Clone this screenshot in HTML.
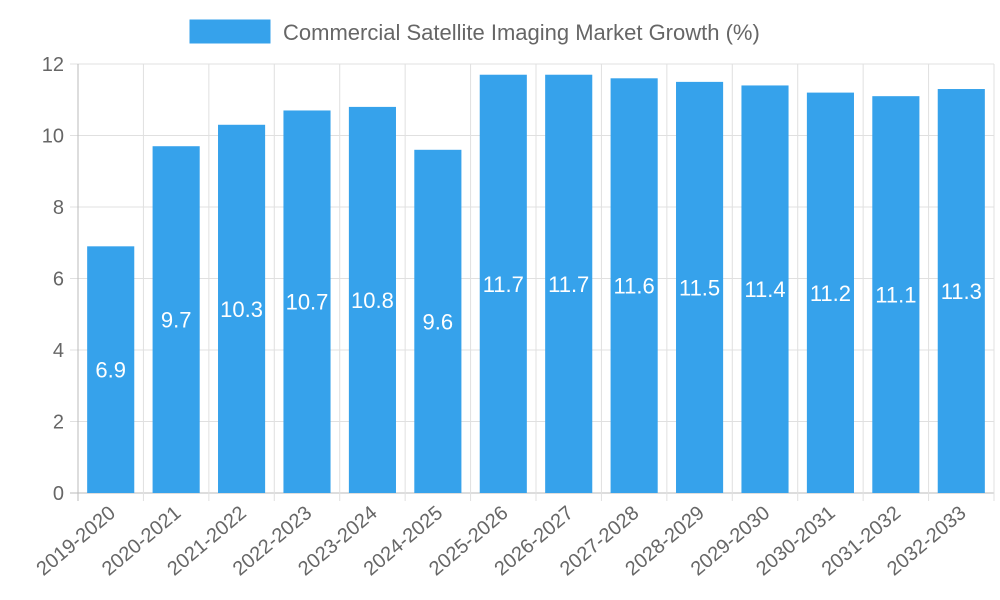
<!DOCTYPE html>
<html><head><meta charset="utf-8"><style>
html,body{margin:0;padding:0;background:#fff;}
svg{display:block;font-family:"Liberation Sans",Arial,sans-serif;}
</style></head><body>
<svg id="chart" width="1000" height="600">
<g>
<rect x="190" y="20" width="80" height="23" fill="#36a2eb" stroke="#36a2eb"></rect>
<text x="283" y="40" font-size="22" fill="#666">Commercial Satellite Imaging Market Growth (%)</text>
</g>
<g id="grid"></g>
<g id="bars"></g>
<g id="axes"></g>
</svg>
<script>
const categories=["2019-2020","2020-2021","2021-2022","2022-2023","2023-2024","2024-2025","2025-2026","2026-2027","2027-2028","2028-2029","2029-2030","2030-2031","2031-2032","2032-2033"];
const values=[6.9,9.7,10.3,10.7,10.8,9.6,11.7,11.7,11.6,11.5,11.4,11.2,11.1,11.3];
const yTicks=[0,2,4,6,8,10,12];
const NS="http://www.w3.org/2000/svg";
const L=78,R=994,T=64,B=493,yMax=12;
const bw=(R-L)/categories.length;
const y=v=>B-(v/yMax)*(B-T);
const x=i=>L+bw*(i+0.5);
function mk(tag,attrs,parent){const e=document.createElementNS(NS,tag);for(const k in attrs)e.setAttribute(k,attrs[k]);parent.appendChild(e);return e;}
const grid=document.getElementById('grid'),bars=document.getElementById('bars'),axes=document.getElementById('axes');
yTicks.forEach(t=>{
 const ln=mk('line',{x1:L-8,x2:R,y1:y(t),y2:y(t),stroke:t===0?'#bbb':'#e0e0e0','stroke-width':1},grid);
 
 
 const tx=mk('text',{x:L-14,y:y(t)+7,'text-anchor':'end','font-size':20,fill:'#666'},axes);
 tx.textContent=t;
 
 
});
for(let i=0;i<=categories.length;i++){
 const gx=L+bw*i;
 const ln=mk('line',{x1:gx,x2:gx,y1:T,y2:B+8,stroke:i===0?'#bbb':'#e0e0e0','stroke-width':1},grid);
 
 
}
categories.forEach((c,i)=>{
 const w=bw*0.72,v=values[i];
 const r=mk('rect',{x:x(i)-w/2,y:y(v),width:w,height:B-y(v),fill:'#36a2eb'},bars);
 
 
 const vl=mk('text',{x:x(i),y:y(v/2)+8,'text-anchor':'middle','font-size':22,fill:'#fff'},bars);
 vl.textContent=v;
 
 
 const xl=mk('text',{x:0,y:0,'text-anchor':'end','font-size':20,fill:'#666',transform:`translate(${x(i)+6},${B+22}) rotate(-40)`},axes);
 xl.textContent=c;
 
 
});
</script>
</body></html>
